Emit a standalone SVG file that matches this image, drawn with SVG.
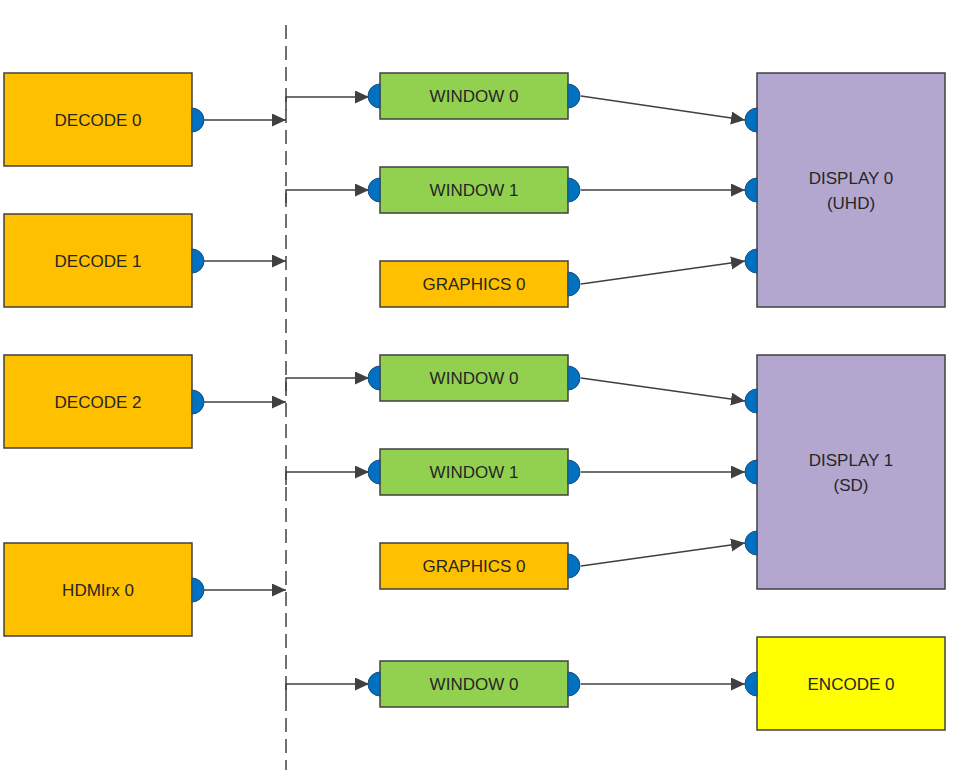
<svg xmlns="http://www.w3.org/2000/svg" width="978" height="776" viewBox="0 0 978 776">
<style>
.box{stroke:#404040;stroke-width:1.5}
.orange{fill:#FFC000}
.green{fill:#92D050}
.purple{fill:#B4A7CF}
.yellow{fill:#FFFF00}
.port{fill:#0070C0;stroke:#1F4E79;stroke-width:1}
.lbl{font-family:"Liberation Sans",Arial,sans-serif;font-size:17px;fill:#262626;text-anchor:middle;dominant-baseline:central}
.conn{fill:none;stroke:#404040;stroke-width:1.5}
.bus{fill:none;stroke:#404040;stroke-width:1.5;stroke-dasharray:14 7}
</style>
<defs>
<marker id="arr" markerUnits="userSpaceOnUse" markerWidth="16" markerHeight="14" refX="14" refY="6.5" orient="auto">
<path d="M0,0 L14,6.5 L0,13 Z" fill="#404040"/>
</marker>
</defs>

<g id="connectors">
<line class="bus" x1="286" y1="25" x2="286" y2="770"/>
<path class="conn" d="M204,120 H286" marker-end="url(#arr)"/>
<path class="conn" d="M204,261 H286" marker-end="url(#arr)"/>
<path class="conn" d="M204,402 H286" marker-end="url(#arr)"/>
<path class="conn" d="M204,590 H286" marker-end="url(#arr)"/>
<path class="conn" d="M286,110 V97 H369" marker-end="url(#arr)"/>
<path class="conn" d="M286,203 V190 H369" marker-end="url(#arr)"/>
<path class="conn" d="M286,391 V378 H369" marker-end="url(#arr)"/>
<path class="conn" d="M286,485 V472 H369" marker-end="url(#arr)"/>
<path class="conn" d="M286,697 V684 H369" marker-end="url(#arr)"/>
<path class="conn" d="M581,96 L745,120" marker-end="url(#arr)"/>
<path class="conn" d="M581,190 L745,190" marker-end="url(#arr)"/>
<path class="conn" d="M581,284 L745,261" marker-end="url(#arr)"/>
<path class="conn" d="M581,378 L745,401" marker-end="url(#arr)"/>
<path class="conn" d="M581,472 L745,472" marker-end="url(#arr)"/>
<path class="conn" d="M581,566 L745,543" marker-end="url(#arr)"/>
<path class="conn" d="M581,684 L745,684" marker-end="url(#arr)"/>
</g>

<g id="decode0">
<rect class="box orange" x="4" y="73" width="188" height="93"/>
<text class="lbl" x="98" y="120">DECODE 0</text>
<path class="port" d="M192,108 A12,12 0 0,1 192,132 Z"/>
</g>
<g id="decode1">
<rect class="box orange" x="4" y="214" width="188" height="93"/>
<text class="lbl" x="98" y="261">DECODE 1</text>
<path class="port" d="M192,249 A12,12 0 0,1 192,273 Z"/>
</g>
<g id="decode2">
<rect class="box orange" x="4" y="355" width="188" height="93"/>
<text class="lbl" x="98" y="402">DECODE 2</text>
<path class="port" d="M192,390 A12,12 0 0,1 192,414 Z"/>
</g>
<g id="hdmirx0">
<rect class="box orange" x="4" y="543" width="188" height="93"/>
<text class="lbl" x="98" y="590">HDMIrx 0</text>
<path class="port" d="M192,578 A12,12 0 0,1 192,602 Z"/>
</g>

<g id="window0a">
<rect class="box green" x="380" y="73" width="188" height="46"/>
<text class="lbl" x="474" y="96">WINDOW 0</text>
<path class="port" d="M380,84 A12,12 0 0,0 380,108 Z"/>
<path class="port" d="M568,84 A12,12 0 0,1 568,108 Z"/>
</g>
<g id="window1a">
<rect class="box green" x="380" y="167" width="188" height="46"/>
<text class="lbl" x="474" y="190">WINDOW 1</text>
<path class="port" d="M380,178 A12,12 0 0,0 380,202 Z"/>
<path class="port" d="M568,178 A12,12 0 0,1 568,202 Z"/>
</g>
<g id="graphics0a">
<rect class="box orange" x="380" y="261" width="188" height="46"/>
<text class="lbl" x="474" y="284">GRAPHICS 0</text>
<path class="port" d="M568,272 A12,12 0 0,1 568,296 Z"/>
</g>
<g id="window0b">
<rect class="box green" x="380" y="355" width="188" height="46"/>
<text class="lbl" x="474" y="378">WINDOW 0</text>
<path class="port" d="M380,366 A12,12 0 0,0 380,390 Z"/>
<path class="port" d="M568,366 A12,12 0 0,1 568,390 Z"/>
</g>
<g id="window1b">
<rect class="box green" x="380" y="449" width="188" height="46"/>
<text class="lbl" x="474" y="472">WINDOW 1</text>
<path class="port" d="M380,460 A12,12 0 0,0 380,484 Z"/>
<path class="port" d="M568,460 A12,12 0 0,1 568,484 Z"/>
</g>
<g id="graphics0b">
<rect class="box orange" x="380" y="543" width="188" height="46"/>
<text class="lbl" x="474" y="566">GRAPHICS 0</text>
<path class="port" d="M568,554 A12,12 0 0,1 568,578 Z"/>
</g>
<g id="window0c">
<rect class="box green" x="380" y="661" width="188" height="46"/>
<text class="lbl" x="474" y="684">WINDOW 0</text>
<path class="port" d="M380,672 A12,12 0 0,0 380,696 Z"/>
<path class="port" d="M568,672 A12,12 0 0,1 568,696 Z"/>
</g>

<g id="display0">
<rect class="box purple" x="757" y="73" width="188" height="234"/>
<text class="lbl" x="851" y="178">DISPLAY 0</text>
<text class="lbl" x="851" y="203">(UHD)</text>
<path class="port" d="M757,108 A12,12 0 0,0 757,132 Z"/>
<path class="port" d="M757,178 A12,12 0 0,0 757,202 Z"/>
<path class="port" d="M757,249 A12,12 0 0,0 757,273 Z"/>
</g>
<g id="display1">
<rect class="box purple" x="757" y="355" width="188" height="234"/>
<text class="lbl" x="851" y="460">DISPLAY 1</text>
<text class="lbl" x="851" y="485">(SD)</text>
<path class="port" d="M757,389 A12,12 0 0,0 757,413 Z"/>
<path class="port" d="M757,460 A12,12 0 0,0 757,484 Z"/>
<path class="port" d="M757,531 A12,12 0 0,0 757,555 Z"/>
</g>
<g id="encode0">
<rect class="box yellow" x="757" y="637" width="188" height="93"/>
<text class="lbl" x="851" y="684">ENCODE 0</text>
<path class="port" d="M757,672 A12,12 0 0,0 757,696 Z"/>
</g>
</svg>
